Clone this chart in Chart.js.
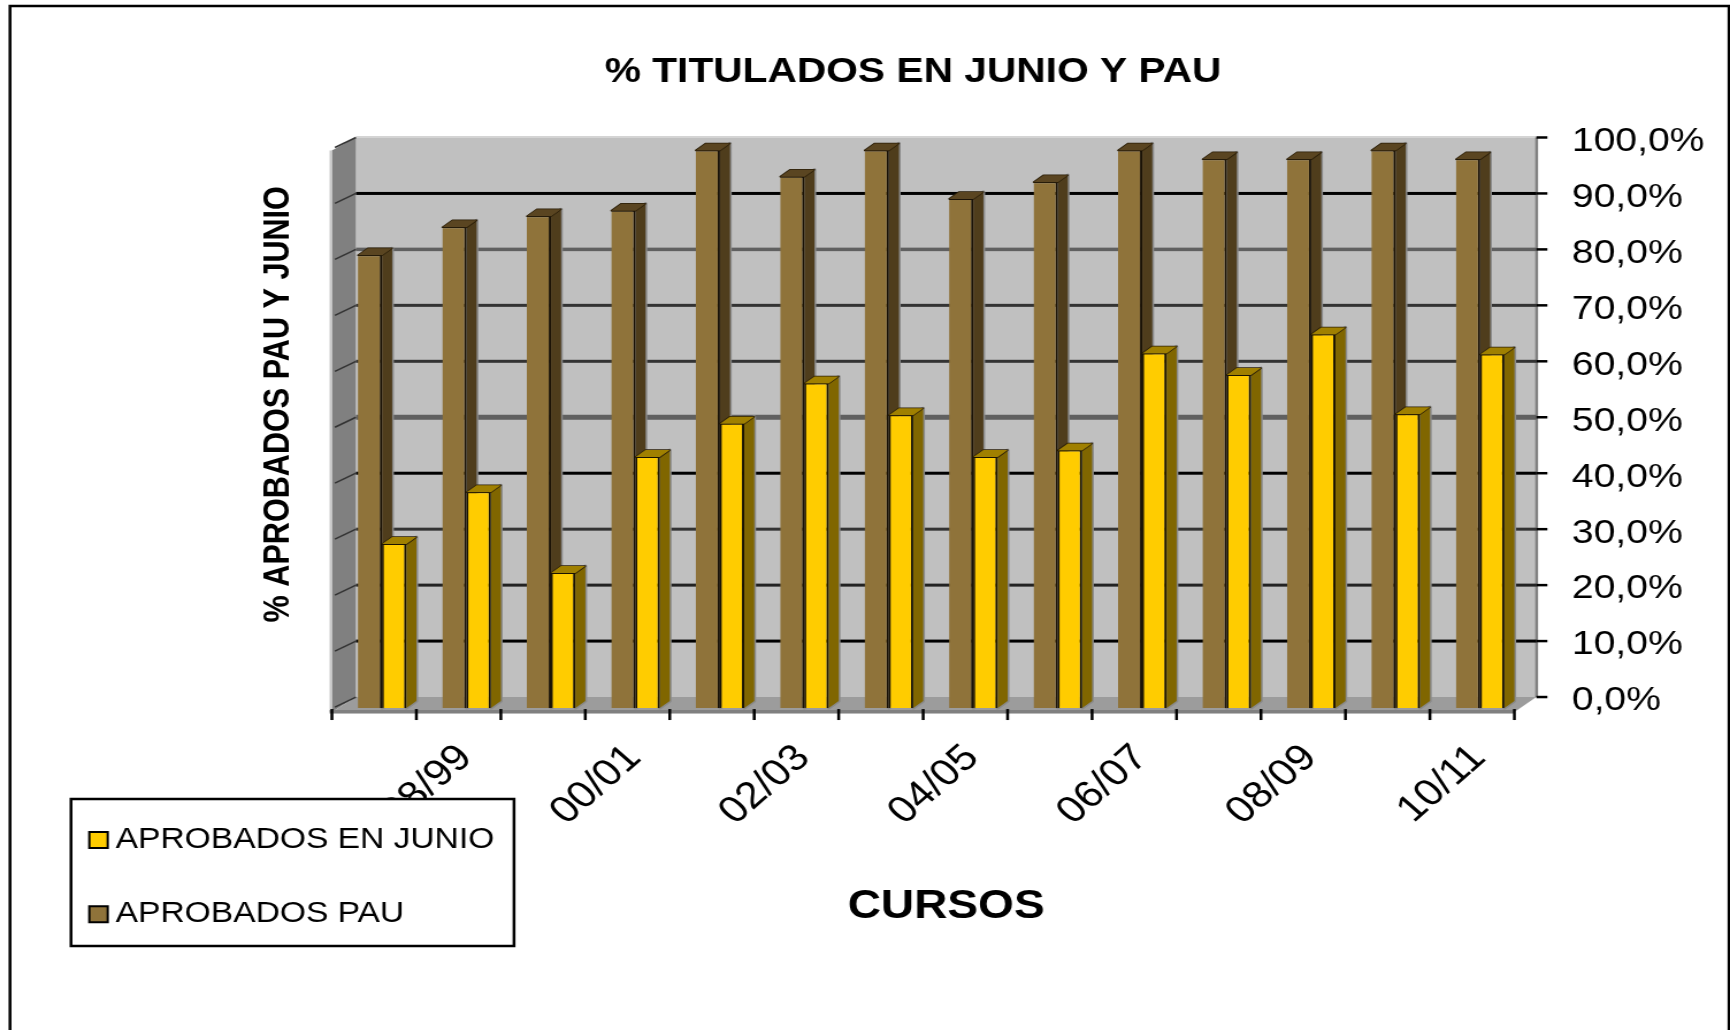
<!DOCTYPE html>
<html lang="es">
<head>
<meta charset="utf-8">
<title>% TITULADOS EN JUNIO Y PAU</title>
<script src="https://cdn.jsdelivr.net/npm/chart.js@4/dist/chart.umd.js"></script>
<style>
html,body{margin:0;padding:0;background:#fff;overflow:hidden;width:1730px;height:1030px}
#wrap{width:1730px;height:1030px;overflow:hidden}
canvas{display:block;transform-origin:0 0;transform:scaleX(1.15027);filter:blur(0.45px)}
</style>
</head>
<body>
<div id="wrap"><canvas id="c" width="1504" height="1030"></canvas></div>
<script>
const categories = ['97/98','98/99','99/00','00/01','01/02','02/03','03/04','04/05','05/06','06/07','07/08','08/09','09/10','10/11'];
const aprobadosJunio = [29.4,38.7,24.2,45,51,58.2,52.5,45,46.2,63.6,59.7,67,52.7,63.4];
const aprobadosPau = [81.2,86.2,88.2,89.2,100,95.3,100,91.3,94.3,100,98.4,98.4,100,98.4];
const tickValues = [0,10,20,30,40,50,60,70,80,90,100];
const titleText = '% TITULADOS EN JUNIO Y PAU';
const xTitle = 'CURSOS';
const yTitle = '% APROBADOS PAU Y JUNIO';

const K = 1730/1504;
const FONT = '"Liberation Sans", Arial, sans-serif';
const gridColors = {0:'#555',10:'#000',20:'#222',30:'#333',40:'#000',50:'#606060',60:'#333',70:'#333',80:'#606060',90:'#000',100:'#bbb'};
const gridWidths = {0:0,10:3,20:3,30:3,40:3,50:5,60:3,70:3,80:3.5,90:3,100:0};

function poly(ctx, pts, fill, stroke, lw){
  ctx.beginPath();
  pts.forEach((p,i)=> i ? ctx.lineTo(p[0],p[1]) : ctx.moveTo(p[0],p[1]));
  ctx.closePath();
  if(stroke){ctx.strokeStyle=stroke;ctx.lineWidth=lw||1;ctx.stroke();}
  if(fill){ctx.fillStyle=fill;ctx.fill();}
}

const scenePlugin = {
  id:'scene',
  afterLayout(chart){
    const t = chart.titleBlock;
    const cx = 913/K;
    t.left = cx-600; t.right = cx+600;
    chart.scales.y.bottom -= 36;
    chart.scales.x.right += 26;
    const l = chart.legend;
    l.left = 40.4; l.right = 600; l.top = 780.5; l.bottom = 990;
    if(!l._boxed){
      const d = l.draw.bind(l);
      l.draw = function(){
        const c = chart.ctx;
        c.save();
        c.fillStyle='#fff'; c.strokeStyle='#000'; c.lineWidth=2.5;
        c.fillRect(71/K,799,443/K,147);
        c.strokeRect(71/K,799,443/K,147);
        c.restore();
        d();
      };
      l._boxed = true;
    }
  },
  beforeDraw(chart){
    const {ctx, chartArea:a, scales} = chart;
    const yb = scales.yBack, x = scales.x;
    ctx.save();
    ctx.fillStyle='#fff';
    ctx.fillRect(0,0,chart.width,chart.height);
    // outer frame
    ctx.strokeStyle='#000';
    ctx.lineWidth=2.5;
    ctx.beginPath();
    ctx.moveTo(10/K,1030);ctx.lineTo(10/K,6);ctx.lineTo(1729/K,6);ctx.lineTo(1729/K,1030);
    ctx.stroke();

    const depthX = 24/K;
    const step = (x._length)/14;
    const frontL = a.left-8/K;
    const frontR = frontL+step*14;
    const bL = frontL+depthX, bR = frontR+depthX-2/K;
    const top = yb.getPixelForValue(100), y0 = yb.getPixelForValue(0);
    const fy = y0+15;
    // back wall
    ctx.fillStyle='#c0c0c0';
    ctx.fillRect(bL,top,bR-bL,y0-top);
    ctx.fillStyle='#d4d4d4';
    ctx.fillRect(bL,top-1.5,bR-bL,2);
    ctx.fillStyle='#808080';
    ctx.fillRect(bR-1,top,2.5,y0-top);
    // left wall
    poly(ctx,[[frontL,top+13],[bL,top],[bL,y0],[frontL,fy]],'#808080');
    ctx.fillStyle='#c8c8c8';
    ctx.fillRect(frontL-2,top+13,2,fy-top-13);
    // floor
    poly(ctx,[[bL,y0],[bR,y0],[frontR,fy],[frontL,fy]],'#9c9c9c');
    ctx.fillStyle='#808080';
    ctx.fillRect(frontL-2,fy-2,frontR-frontL+2,3.5);
    // back-wall grid lines and ticks through the value scale
    tickValues.forEach(v=>{
      const py = yb.getPixelForValue(v);
      if(gridWidths[v]){
        ctx.fillStyle=gridColors[v];
        ctx.fillRect(bL,py-gridWidths[v]/2,bR-bL,gridWidths[v]);
      }
      ctx.strokeStyle='#000';
      ctx.lineWidth=2.5;
      ctx.beginPath();
      ctx.moveTo(bR,py);ctx.lineTo(bR+11/K,py);
      ctx.stroke();
      // slanted tick on the left wall
      ctx.strokeStyle='#333';
      ctx.lineWidth=1.5;
      ctx.beginPath();
      ctx.moveTo(bL,py);ctx.lineTo(frontL+3/K,py+10);
      ctx.stroke();
    });
    // category ticks
    ctx.strokeStyle='#000';
    ctx.lineWidth=2.5;
    for(let i=0;i<=categories.length;i++){
      const px = frontL+step*i;
      ctx.beginPath();
      ctx.moveTo(px,fy-3);ctx.lineTo(px,fy+8);
      ctx.stroke();
    }
    ctx.restore();
  },
  beforeDatasetsDraw(chart){
    const ctx = chart.ctx;
    const dx = 10/K, dy = 7;
    const styles = [
      {i:1, side:'#4f3d1c', top:'#5a4521'},
      {i:0, side:'#806600', top:'#a08000'}
    ];
    ctx.save();
    ctx.lineJoin='round';
    styles.forEach(s=>{
      chart.getDatasetMeta(s.i).data.forEach(el=>{
        const l = el.x-el.width/2, r = el.x+el.width/2;
        poly(ctx,[[r,el.y],[r+dx,el.y-dy],[r+dx,el.base-dy],[r,el.base]],s.side,'#8a8a8a',3);
        poly(ctx,[[l,el.y],[l+dx,el.y-dy],[r+dx,el.y-dy],[r,el.y]],s.top,'#2a1e08',1.5);
      });
    });
    ctx.restore();
  }
};

new Chart(document.getElementById('c'),{
  type:'bar',
  data:{
    labels:categories,
    datasets:[
      {label:'APROBADOS EN JUNIO',data:aprobadosJunio,backgroundColor:'#ffcc00',borderColor:'#1a1300',
       borderWidth:{left:1.5,right:2,top:1,bottom:0},borderSkipped:false,order:1,clip:false,yAxisID:'y',xAxisID:'x'},
      {label:'APROBADOS PAU',data:aprobadosPau,backgroundColor:'#8f733a',borderColor:'#1a1206',
       borderWidth:{left:0,right:2,top:1,bottom:0},borderSkipped:false,order:0,clip:false,yAxisID:'y',xAxisID:'x'}
    ]
  },
  options:{
    responsive:false,
    animation:false,
    devicePixelRatio:1,
    layout:{padding:0},
    categoryPercentage:0.575,
    barPercentage:1,
    plugins:{
      tooltip:{enabled:false},
      title:{display:true,text:titleText,color:'#000',font:{family:FONT,size:35.4,weight:'bold'},
             padding:{top:51,bottom:43}},
      legend:{
        display:true,position:'chartArea',align:'start',
        labels:{
          color:'#000',font:{family:FONT,size:29.2},
          usePointStyle:true,pointStyle:'rect',boxWidth:0.5,boxHeight:16,padding:45,
          sort(a,b){return a.datasetIndex-b.datasetIndex;},
          generateLabels(chart){
            return Chart.defaults.plugins.legend.labels.generateLabels(chart)
              .map(i=>Object.assign(i,{strokeStyle:'#000',lineWidth:2,pointStyle:'rect'}));
          }
        }
      }
    },
    scales:{
      x:{
        type:'category',position:'bottom',
        grid:{display:false,drawTicks:false},
        border:{display:false},
        afterFit(s){s.height=1030-708;},
        ticks:{
          z:-1,color:'#000',font:{family:FONT,size:37.5},
          autoSkip:false,minRotation:45,maxRotation:45,padding:28,labelOffset:-1,
          callback(v,i){return i%2 ? categories[i] : '';}
        },
        title:{display:true,text:xTitle,color:'#000',font:{family:FONT,size:40,weight:'bold'},
               padding:{top:0,bottom:99}}
      },
      y:{
        type:'linear',position:'left',min:0,max:102.5,
        grid:{display:false,drawTicks:false},
        border:{display:false},
        ticks:{display:false},
        afterFit(s){s.width=295.5;},
        title:{display:true,text:yTitle,color:'#000',font:{family:FONT,size:30.6,weight:'bold'},
               padding:{top:224.5,bottom:0}}
      },
      yBack:{
        type:'linear',position:'right',min:-1.96,max:100.18,
        grid:{display:false,drawTicks:false},
        border:{display:false},
        afterBuildTicks(s){s.ticks=tickValues.map(v=>({value:v}));},
        afterFit(s){s.width=1504-1323.5;},
        ticks:{
          color:'#000',font:{family:FONT,size:34},padding:43,labelOffset:4,autoSkip:false,
          callback(v){return v.toFixed(1).replace('.',',')+'%';}
        }
      }
    }
  },
  plugins:[scenePlugin]
});
</script>
</body>
</html>
